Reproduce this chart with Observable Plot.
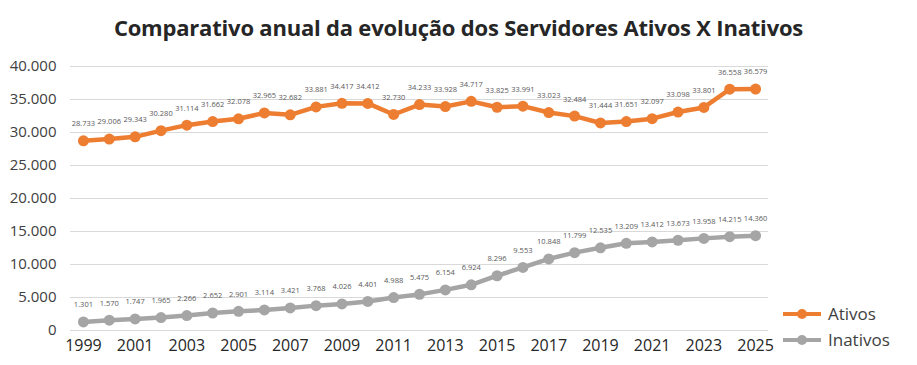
<!DOCTYPE html>
<html><head><meta charset="utf-8">
<script src="https://cdn.jsdelivr.net/npm/d3@7"></script>
<script src="https://cdn.jsdelivr.net/npm/@observablehq/plot@0.6"></script>
<style>
body{margin:0;background:#fff;font-family:"Open Sans",sans-serif;}
#wrap{position:relative;width:917px;height:365px;}
h2{margin:0;height:50px;line-height:54px;text-align:center;font-size:22px;font-weight:700;color:#262626;letter-spacing:-0.2px;}
.leg{position:absolute;left:783px;font-size:17px;color:#404040;display:flex;align-items:center;}
.leg svg{margin-right:7px;}
</style></head>
<body><div id="wrap"><h2>Comparativo anual da evolução dos Servidores Ativos X Inativos</h2><div id="chart"></div>
<div class="leg" style="top:302px"><svg width="38" height="12"><line x1="0" x2="38" y1="6" y2="6" stroke="#ED7D31" stroke-width="4"/><circle cx="19" cy="6" r="5" fill="#ED7D31"/></svg>Ativos</div>
<div class="leg" style="top:328px"><svg width="38" height="12"><line x1="0" x2="38" y1="6" y2="6" stroke="#A5A5A5" stroke-width="4"/><circle cx="19" cy="6" r="5" fill="#A5A5A5"/></svg>Inativos</div>
</div>
<script>
const years = d3.range(1999, 2026);
const ativos = [28733,29006,29343,30280,31114,31662,32078,32965,32682,33881,34417,34412,32730,34233,33928,34717,33825,33991,33023,32484,31444,31651,32097,33098,33801,36558,36579];
const inativos = [1301,1570,1747,1965,2266,2652,2901,3114,3421,3768,4026,4401,4988,5475,6154,6924,8296,9553,10848,11799,12535,13209,13412,13673,13958,14215,14360];
const yTicks = [0,5000,10000,15000,20000,25000,30000,35000,40000];
const xTicks = years.filter(y => y % 2 === 1);
const series = [{name:"Ativos", values:ativos, color:"#ED7D31"},{name:"Inativos", values:inativos, color:"#A5A5A5"}];
const data = series.flatMap(s => years.map((yr,i) => ({year:yr, value:s.values[i], name:s.name, color:s.color})));
const fmt = d3.formatLocale({decimal:",", thousands:".", grouping:[3], currency:["",""]}).format(",d");

const chart = Plot.plot({
  width: 917, height: 315,
  marginTop: 16, marginBottom: 35, marginLeft: 70, marginRight: 149,
  style: {fontFamily: "Open Sans, sans-serif", background: "#fff"},
  x: {type: "linear", domain: [years[0] - 0.5, years[years.length - 1] + 0.5], label: null},
  y: {domain: [0, 40000], label: null},
  marks: [
    Plot.gridY(yTicks, {stroke: "#d9d9d9", strokeOpacity: 1, strokeWidth: 1}),
    Plot.line(data, {x: "year", y: "value", z: "name", stroke: "color", strokeWidth: 4.5}),
    Plot.dot(data, {x: "year", y: "value", fill: "color", r: 5.5}),
    Plot.text(data, {x: "year", y: "value", text: d => fmt(d.value), dy: -17, fontSize: 7.5, fill: "#595959"}),
    Plot.axisX({ticks: xTicks, tickSize: 0, tickPadding: 9, fontSize: 16, color: "#262626", tickFormat: d => String(d), label: null}),
    Plot.axisY({ticks: yTicks, tickSize: 0, tickPadding: 14, fontSize: 15, color: "#404040", tickFormat: fmt, label: null})
  ]
});
document.getElementById("chart").appendChild(chart);
</script></body></html>
